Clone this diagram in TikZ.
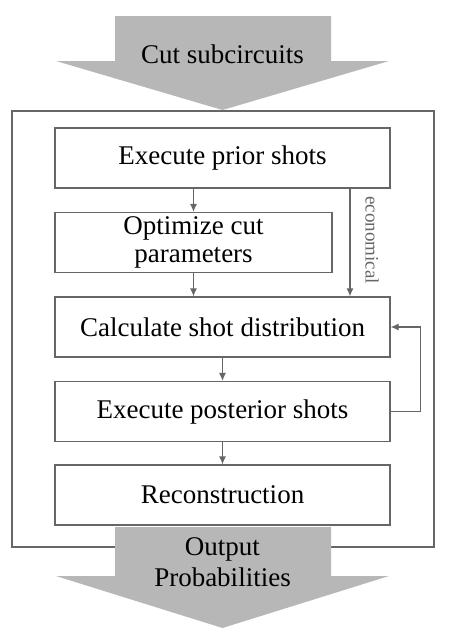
\documentclass[tikz,border=0pt]{standalone}
\usepackage{fontspec}
\setmainfont{Liberation Serif}
\usetikzlibrary{arrows.meta}
\definecolor{boxline}{HTML}{666666}
\definecolor{bigarrow}{HTML}{B7B7B7}
\tikzset{
  stepbox/.style={draw=boxline,line width=1.2pt,minimum height=60pt,align=center,
    inner sep=0pt,font=\fontsize{27}{28}\selectfont},
  flow/.style={draw=boxline,line width=1.2pt,-{Latex[length=8pt,width=7pt]}}
}
\begin{document}
\begin{tikzpicture}[x=1pt,y=-1pt]
\useasboundingbox (0,0) rectangle (449,641);
% outer frame
\draw[boxline,line width=1.2pt] (12,111) rectangle (434,547);
% input and output arrows
\fill[bigarrow] (115,16) -- (331,16) -- (331,61) -- (389,61) -- (222.5,110) -- (56,61) -- (115,61) -- cycle;
\node[font=\fontsize{27}{28}\selectfont] (cut) at (222.5,54) {Cut subcircuits};
\fill[bigarrow] (115,527) -- (331,527) -- (331,576) -- (389,576) -- (222.5,628) -- (56,576) -- (115,576) -- cycle;
\node[font=\fontsize{27}{31}\selectfont,align=center] (out) at (222.5,562) {Output\\Probabilities};

% steps
\node[stepbox,minimum width=335pt] (prior) at (222.5,158) {Execute prior shots};
\node[stepbox,minimum width=277pt] (optim) at (193.5,242.5) {Optimize cut\\parameters};
\node[stepbox,minimum width=335pt] (calc) at (222.5,327) {Calculate shot distribution};
\node[stepbox,minimum width=335pt] (post) at (222.5,411.5) {Execute posterior shots};
\node[stepbox,minimum width=335pt] (recon) at (222.5,495) {Reconstruction};

% connectors
\draw[flow] (prior.south -| optim.north) -- (optim.north);
\draw[flow] (optim.south) -- (optim.south |- calc.north);
\draw[flow] ([xshift=127.5pt]prior.south) -- ([xshift=127.5pt]calc.north);
\node[rotate=-90,text=boxline,font=\fontsize{19}{20}\selectfont] (econ) at (372,240) {economical};
\draw[flow] (calc.south) -- (post.north);
\draw[flow] (post.south) -- (recon.north);
\draw[flow] (post.east) -- ++(30,0) |- (calc.east);
\end{tikzpicture}
\end{document}
